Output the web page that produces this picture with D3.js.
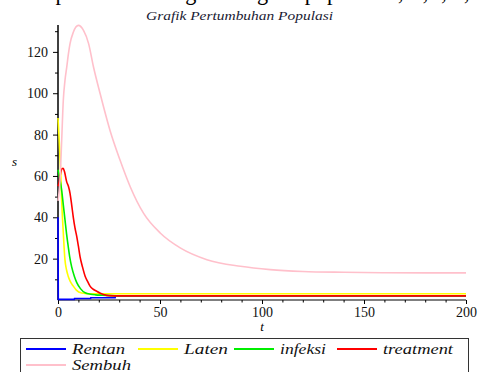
<!DOCTYPE html>
<html><head><meta charset="utf-8">
<script src="https://cdn.jsdelivr.net/npm/d3@7"></script>
<style>body{margin:0;background:#fff}svg{display:block}</style>
</head><body>
<svg id="c" width="478" height="372"></svg>
<script>
const seriesNames = ["Rentan","Laten","infeksi","treatment","Sembuh"];
const seriesColors = ["#0000ff","#ffff00","#00ee00","#ff0000","#ffc0cb"];
const tRentan = [0,0.15,8,8.1,16,16.1,28,28.2,200];
const vRentan = [40,0.3,0.3,0.7,0.7,1.1,1.1,2.0,2.0];
const tLaten = [0,0.5,1,1.4,1.8,2.6,3.4,4.2,5,6,7.5,9,11.6,14,17,20,30,200];
const vLaten = [88,79,68,60,48,32.5,19.5,14.5,11.5,9,6.7,4.8,3.4,3.1,3.0,3.0,3.0,3.0];
const tInfeksi = [0,1,1.8,2.6,3.4,4.2,5,5.8,6.7,8,9.2,11,13.3,16,18.3,22,30,200];
const vInfeksi = [63,58,53,46,39,32,26,20.5,16,11.5,8.4,5.5,3.5,2.8,2.5,2.3,2.0,2.0];
const tTreatment = [0,0.6,1.2,2,2.5,3.2,4.3,5.1,5.9,6.7,7.5,8.3,9.2,10,10.8,12,13.3,14.5,15.7,17.3,19,20.5,22.3,25,30,200];
const vTreatment = [55,57,61,63.5,63.7,62,57,55,51.6,46,40,35,30.7,26,21,16,11.5,9,6.7,5.2,4.2,3.4,2.7,2.1,2.0,2.0];
const tSembuh = [0,1,1.8,2.6,3.4,4.3,5.1,5.9,7.5,10,12.5,15,17.4,20.6,25.5,30.4,35.4,41.9,50.1,59.9,73,89.4,104,120,140,160,180,200];
const vSembuh = [48,58,77,96.6,106,112.7,119,124,129.5,132.8,130.4,124,112.7,100,82,67.7,54.8,42,32.4,25.2,19.5,16.3,14.7,13.8,13.4,13.2,13.1,13.1];
const xTicks = [0,50,100,150,200];
const yTicks = [20,40,60,80,100,120];
const titleText = "Grafik Pertumbuhan Populasi";
const SERIF = "'Liberation Serif','DejaVu Serif',serif";

const svg = d3.select("#c");
const x = d3.scaleLinear().domain([0,200]).range([58,466]);
const y = d3.scaleLinear().domain([0,133]).range([300,25]);

// clipped document text at the very top
svg.append("text").attr("x",-10).attr("y",0)
  .attr("font-family",SERIF).attr("font-size",26)
  .attr("textLength",500).attr("lengthAdjust","spacingAndGlyphs")
  .text("terhadap waktu masing-masing subpopulasi S, E, I, T, R");

svg.append("text").attr("x",146).attr("y",20)
  .attr("font-family",SERIF).attr("font-style","italic")
  .attr("font-size",13).attr("fill","#1a1a33")
  .attr("textLength",187).attr("lengthAdjust","spacingAndGlyphs").text(titleText);

// axes
const xAxis = d3.axisBottom(x).tickValues(xTicks).tickSize(4).tickPadding(3).tickFormat(d3.format("d"));
const gx = svg.append("g").attr("transform","translate(0,300)").call(xAxis);
gx.select(".domain").attr("d","M58,0H466").attr("stroke","#000");
gx.selectAll("text").attr("font-family",SERIF).attr("font-size",14).attr("fill","#111");
svg.append("g").attr("transform","translate(0,300)")
  .call(d3.axisBottom(x).tickValues(d3.range(10,200,10).filter(v=>v%50)).tickSize(2.5).tickFormat(""))
  .select(".domain").remove();

const yAxis = d3.axisLeft(y).tickValues(yTicks).tickSize(5).tickPadding(5);
const gy = svg.append("g").attr("transform","translate(58,0)").call(yAxis);
gy.select(".domain").attr("d","M0,300V25").attr("stroke","#000").attr("stroke-width",1.5);
gy.selectAll("text").attr("font-family",SERIF).attr("font-size",14).attr("fill","#111");
svg.append("g").attr("transform","translate(58,0)")
  .call(d3.axisLeft(y).tickValues([10,30,50,70,90,110,130]).tickSize(3).tickFormat(""))
  .select(".domain").remove();

// series (drawn over axes)
const data = [
  [tRentan,vRentan],[tLaten,vLaten],[tInfeksi,vInfeksi],[tTreatment,vTreatment],[tSembuh,vSembuh]
];
const line = d3.line().x(d=>x(d[0])).y(d=>y(d[1]));
data.forEach((s,i)=>{
  const pts = s[0].map((t,j)=>[t,s[1][j]]);
  svg.append("path").attr("d", line.curve(i===0?d3.curveLinear:d3.curveMonotoneX)(pts))
    .attr("fill","none").attr("stroke",seriesColors[i]).attr("stroke-width",1.6);
});

svg.append("text").attr("x",12).attr("y",166).attr("font-family",SERIF)
  .attr("font-style","italic").attr("font-size",13).text("s");
svg.append("text").attr("x",262).attr("y",331).attr("text-anchor","middle").attr("font-family",SERIF)
  .attr("font-style","italic").attr("font-size",13).text("t");

// legend
svg.append("rect").attr("x",20.5).attr("y",338.5).attr("width",448).attr("height",50)
  .attr("fill","none").attr("stroke","#333");
const legPos = [[26,349,53],[138,349,44],[234,349,46],[337,349,70],[26,365,59]];
seriesNames.forEach((n,i)=>{
  const [lx,ly,tl]=legPos[i];
  svg.append("line").attr("x1",lx).attr("x2",lx+40).attr("y1",ly).attr("y2",ly)
    .attr("stroke",seriesColors[i]).attr("stroke-width",1.8);
  svg.append("text").attr("x",lx+46).attr("y",ly+5).attr("font-family",SERIF)
    .attr("font-style","italic").attr("font-size",15).attr("fill","#111")
    .attr("textLength",tl).attr("lengthAdjust","spacingAndGlyphs").text(n);
});
</script>
</body></html>
